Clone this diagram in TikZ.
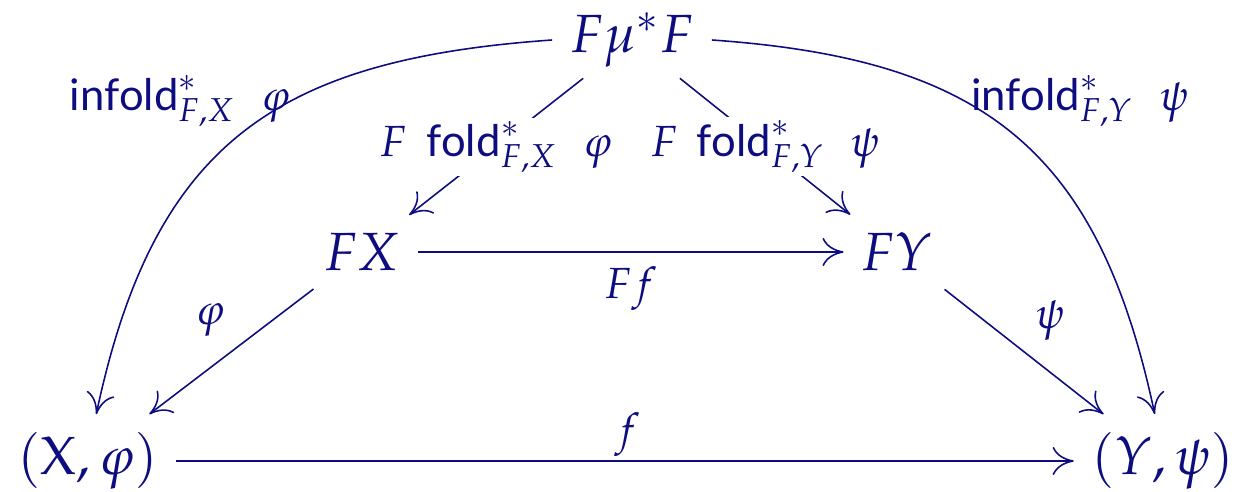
\documentclass[tikz,border=0pt]{standalone}
\usepackage{mathpazo}
\usepackage[no-math]{fontspec}
\setsansfont{Lato}
\usetikzlibrary{arrows.meta}
\definecolor{navyc}{RGB}{13,13,128}
\begin{document}
\begin{tikzpicture}[x=0.01cm,y=0.01cm,
  every node/.style={text=navyc},
  obj/.style={font=\fontsize{15.3}{18}\selectfont, inner sep=5pt},
  lab/.style={font=\fontsize{12.4}{15}\selectfont, inner sep=1pt},
  arr/.style={draw=navyc, line width=0.45pt, -{To[length=6pt,width=8pt]}}]
\useasboundingbox (0,0) rectangle (1237,491);
\node[obj, inner ysep=3pt] (top) at (632,451) {$F\mu^{*}F$};
\node[obj] (FX) at (362,239) {$FX$};
\node[obj] (FY) at (897,239) {$FY$};
\node[obj] (XP) at (88,30) {$(\mathrm{X},\varphi)$};
\node[obj] (YP) at (1163,30) {$(Y,\psi)$};
\draw[arr] (top) -- node[lab, fill=white] {$F\hspace{0.45em}\textsf{fold}^{*}_{F,X}\hspace{0.6em}\varphi$} (FX);
\draw[arr] (top) -- node[lab, fill=white] {$F\hspace{0.45em}\textsf{fold}^{*}_{F,Y}\hspace{0.6em}\psi$} (FY);
\draw[arr] (FX) -- node[lab, below=3pt] {$Ff$} (FY);
\draw[arr] (FX) -- (XP);
\draw[arr] (FY) -- (YP);
\draw[arr] (XP) -- (YP);
\draw[arr] (top.west) to[out=184, in=78, looseness=1.2] (XP.80);
\draw[arr] (top.east) to[out=-4, in=102, looseness=1.2] (YP.100);
\node[lab] (lphi) at (210,171) {$\varphi$};
\node[lab] (lpsi) at (1050,171) {$\psi$};
\node[lab] (lf) at (628,56) {$f$};
\node[lab] (linl) at (180,390) {$\textsf{infold}^{*}_{F,X}\hspace{0.6em}\varphi$};
\node[lab] (linr) at (1080,390) {$\textsf{infold}^{*}_{F,Y}\hspace{0.6em}\psi$};
\end{tikzpicture}
\end{document}
